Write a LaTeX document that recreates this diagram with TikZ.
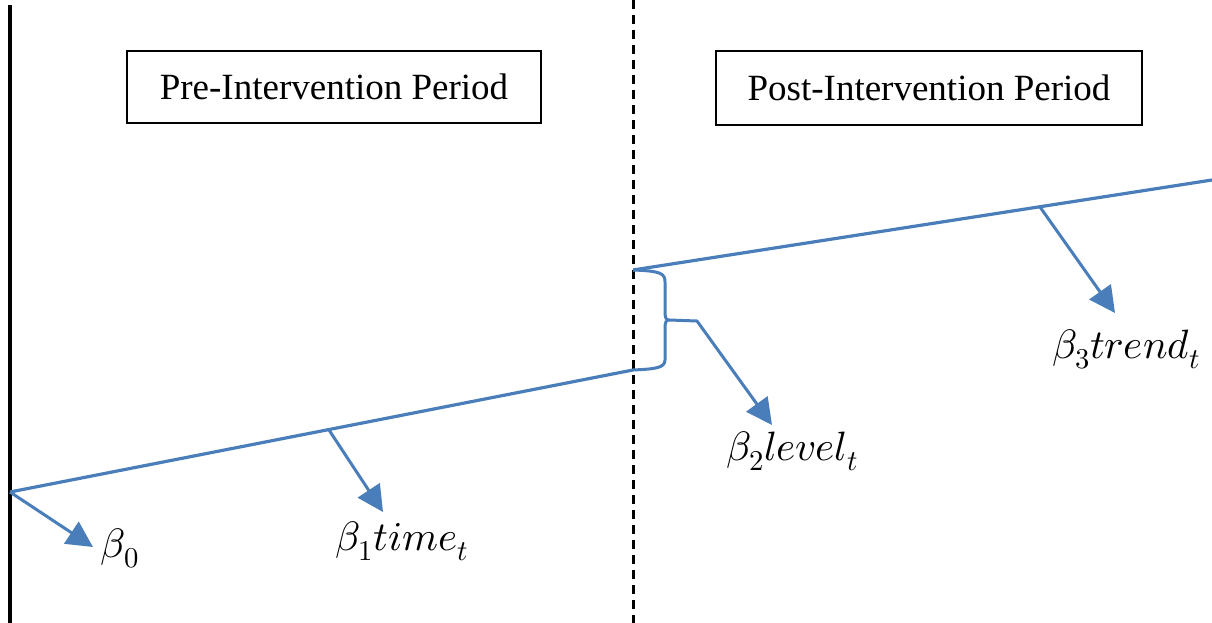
\documentclass[tikz,border=0pt]{standalone}
\usepackage{fontspec}
\usepackage{unicode-math}
\setmainfont{Liberation Serif}
\setmathfont{Latin Modern Math}
\usetikzlibrary{arrows.meta}
\definecolor{lineblue}{RGB}{74,126,187}
\begin{document}
\begin{tikzpicture}[x=1pt,y=-1pt,
  trend/.style={draw=lineblue, line width=3.2pt, line join=round},
  pointer/.style={draw=lineblue, line width=3pt, line join=round,
    -{Triangle[length=26pt,width=26pt]}},
  period/.style={draw=black, line width=2.2pt, minimum height=72pt,
    inner sep=0pt, font=\fontsize{37}{44}\selectfont},
  coef/.style={inner sep=0pt, font=\fontsize{41}{48}\selectfont}]
\useasboundingbox (0,0) rectangle (1212,623);
\fill[white] (0,0) rectangle (1212,623);

% vertical axis and intervention point
\coordinate (axtop) at (10,5);
\coordinate (axbot) at (10,623);
\draw[black, line width=3.2pt] (axtop) -- (axbot);
\coordinate (ivtop) at (633,0);
\coordinate (ivbot) at (633,623);
\draw[black, line width=3pt, dash pattern=on 9pt off 6pt] (ivtop) -- (ivbot);

% period labels
\node[period, minimum width=414pt] (pre) at (334,87) {Pre-Intervention Period};
\node[period, minimum width=426pt, minimum height=74pt] (post) at (929,88) {Post-Intervention Period};

% regression segments
\coordinate (p0) at (10,492);
\coordinate (p1) at (633,370);
\coordinate (q0) at (633,270);
\coordinate (q1) at (1212,180);
\draw[trend] (p0) -- (p1);
\draw[trend] (q0) -- (q1);

% brace marking the level change
\coordinate (btip) at (669,320);
\draw[trend, line width=3pt] (q0) .. controls (660,271) and (665,273) .. (665,282)
  -- (665,311) .. controls (665,318) and (666,320) .. (btip)
  .. controls (666,320) and (665,322) .. (665,329)
  -- (665,360) .. controls (665,368) and (655,369) .. (p1);

% coefficient pointers
\coordinate (bknee) at (697,321);
\coordinate (b0end) at (93,547);
\coordinate (b1start) at (329,430);
\coordinate (b1end) at (383,512);
\coordinate (b2end) at (772,425);
\coordinate (b3start) at (1040,207);
\coordinate (b3end) at (1115,313);
\draw[pointer] (p0) -- (b0end);
\draw[pointer] (b1start) -- (b1end);
\draw[pointer] (btip) -- (bknee) -- (b2end);
\draw[pointer] (b3start) -- (b3end);

% coefficient labels
\node[coef] (l0) at (120,548) {$\beta_0$};
\node[coef] (l1) at (402,541) {$\beta_1 time_t$};
\node[coef] (l2) at (792,451) {$\beta_2 level_t$};
\node[coef] (l3) at (1126,349) {$\beta_3 trend_t$};
\end{tikzpicture}
\end{document}
